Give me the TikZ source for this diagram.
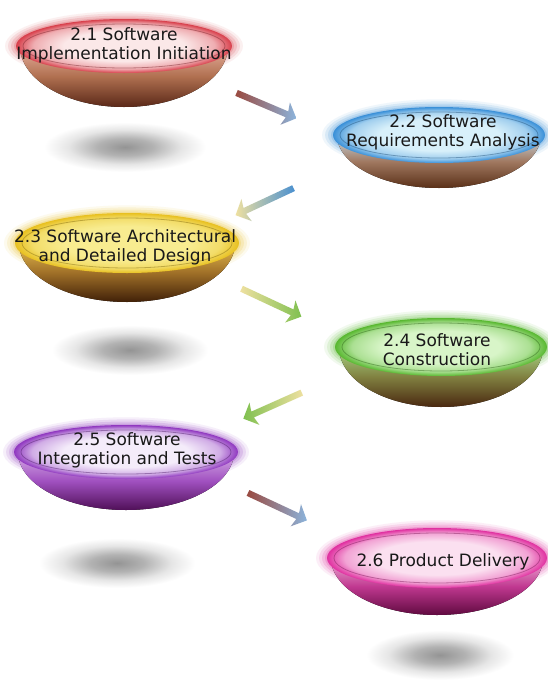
\documentclass[tikz,border=0pt]{standalone}
\usepackage{fontspec}
\setmainfont{DejaVu Sans}
\usetikzlibrary{shapes.geometric,shapes.arrows}
\pgfdeclareradialshading[rimc,innc]{rimshade}{\pgfpoint{0bp}{0bp}}{color(0bp)=(innc); color(14bp)=(innc); color(21bp)=(innc!65!rimc); color(25bp)=(rimc); color(50bp)=(rimc)}
\pgfdeclareradialshading{shadowshade}{\pgfpoint{0bp}{0bp}}{color(0bp)=(black!42); color(8bp)=(black!30); color(16bp)=(black!10); color(23bp)=(white); color(50bp)=(white)}
\definecolor{Ar}{HTML}{9A4A40}\definecolor{Ab}{HTML}{8CB4DC}\definecolor{Ab2}{HTML}{4A90D0}
\definecolor{Ay}{HTML}{EEE0A0}\definecolor{Ag}{HTML}{80C050}
\tikzset{
  rimnode/.style={ellipse, inner sep=0pt, shading=rimshade, shade},
  labeltext/.style={text=black!90, align=center, inner sep=0pt, font=\fontsize{17}{19}\selectfont},
  blockarrow/.style={single arrow, inner sep=0pt, single arrow head extend=9pt,
     single arrow head indent=2pt},
  shadowblob/.style={shading=shadowshade}
}
\newcommand\bowl[6]{%
  \foreach \g/\o in {11/0.08,8/0.12,5/0.16,2/0.22}{\fill[rimc, opacity=\o] (#2,#3) ellipse [x radius=#4+\g, y radius=#5+0.7*\g];}
  \fill[top color=bodyt, bottom color=bodyb, middle color=bodym]
     (#2-#4+4,#3) arc[start angle=180, end angle=0, x radius=#4-4, y radius=#6] -- cycle;
  \node[rimnode, minimum width=2*#4pt, minimum height=2*#5pt] (#1) at (#2,#3) {};
  \draw[rimc!55!black, opacity=.45, line width=.8pt] (#2,#3) ellipse [x radius=#4-7, y radius=#5-5];
}
\newcommand\shaft{\rule{0pt}{6pt}}
\begin{document}
\begin{tikzpicture}[x=1pt,y=-1pt]
\useasboundingbox[fill=white] (0,0) rectangle (548,686);
% shadows
\shade[shadowblob] (125,147) ellipse [x radius=88, y radius=27];
\shade[shadowblob] (130,350) ellipse [x radius=85, y radius=27];
\shade[shadowblob] (117,563) ellipse [x radius=85, y radius=27];
\shade[shadowblob] (440,655) ellipse [x radius=80, y radius=27];
% bowls
\definecolor{rimc}{HTML}{D8404C}\definecolor{innc}{HTML}{FBE8E8}\definecolor{bodyt}{HTML}{E8B0A0}\definecolor{bodym}{HTML}{B07050}\definecolor{bodyb}{HTML}{5A2818}
\bowl{b1}{124}{46}{108}{27}{61}
\definecolor{rimc}{HTML}{3A90D8}\definecolor{innc}{HTML}{D8F0FA}\definecolor{bodyt}{HTML}{C8DCE8}\definecolor{bodym}{HTML}{A07860}\definecolor{bodyb}{HTML}{5A3018}
\bowl{b2}{439}{135}{106}{28}{53}
\definecolor{rimc}{HTML}{E8C020}\definecolor{innc}{HTML}{F8EC90}\definecolor{bodyt}{HTML}{E8C050}\definecolor{bodym}{HTML}{A07028}\definecolor{bodyb}{HTML}{402008}
\bowl{b3}{127}{243}{112}{30}{59}
\definecolor{rimc}{HTML}{58B830}\definecolor{innc}{HTML}{D8F5C8}\definecolor{bodyt}{HTML}{A8D888}\definecolor{bodym}{HTML}{808040}\definecolor{bodyb}{HTML}{4A2810}
\bowl{b4}{441}{347}{106}{29}{60}
\definecolor{rimc}{HTML}{9038C0}\definecolor{innc}{HTML}{F4ECFA}\definecolor{bodyt}{HTML}{D8B0E8}\definecolor{bodym}{HTML}{A050C0}\definecolor{bodyb}{HTML}{501058}
\bowl{b5}{126}{452}{112}{27}{58}
\definecolor{rimc}{HTML}{E030A0}\definecolor{innc}{HTML}{FBE0F0}\definecolor{bodyt}{HTML}{F0B0D8}\definecolor{bodym}{HTML}{C03890}\definecolor{bodyb}{HTML}{600A40}
\bowl{b6}{437}{558}{110}{30}{57}
% labels
\node[labeltext] (t1) at (124,45) {2.1 Software\\Implementation Initiation};
\node[labeltext] (t2) at (443,132) {2.2 Software\\Requirements Analysis};
\node[labeltext] (t3) at (125,247) {2.3 Software Architectural\\and Detailed Design};
\node[labeltext] (t4) at (437,350) {2.4 Software\\Construction};
\node[labeltext] (t5) at (127,450) {2.5 Software\\Integration and Tests};
\node[labeltext] (t6) at (443,562) {2.6 Product Delivery};
% arrows
\node[blockarrow, minimum height=65pt, rotate=-23, left color=Ar, right color=Ab] (a1) at (265,105) {\shaft};
\node[blockarrow, minimum height=64pt, rotate=205, left color=Ay, right color=Ab2] (a2) at (266,201) {\shaft};
\node[blockarrow, minimum height=66pt, rotate=-25, left color=Ay, right color=Ag] (a3) at (270,302) {\shaft};
\node[blockarrow, minimum height=64pt, rotate=204, left color=Ag, right color=Ay] (a4) at (274,405) {\shaft};
\node[blockarrow, minimum height=65pt, rotate=-25, left color=Ar, right color=Ab] (a5) at (276,506) {\shaft};
\end{tikzpicture}
\end{document}
